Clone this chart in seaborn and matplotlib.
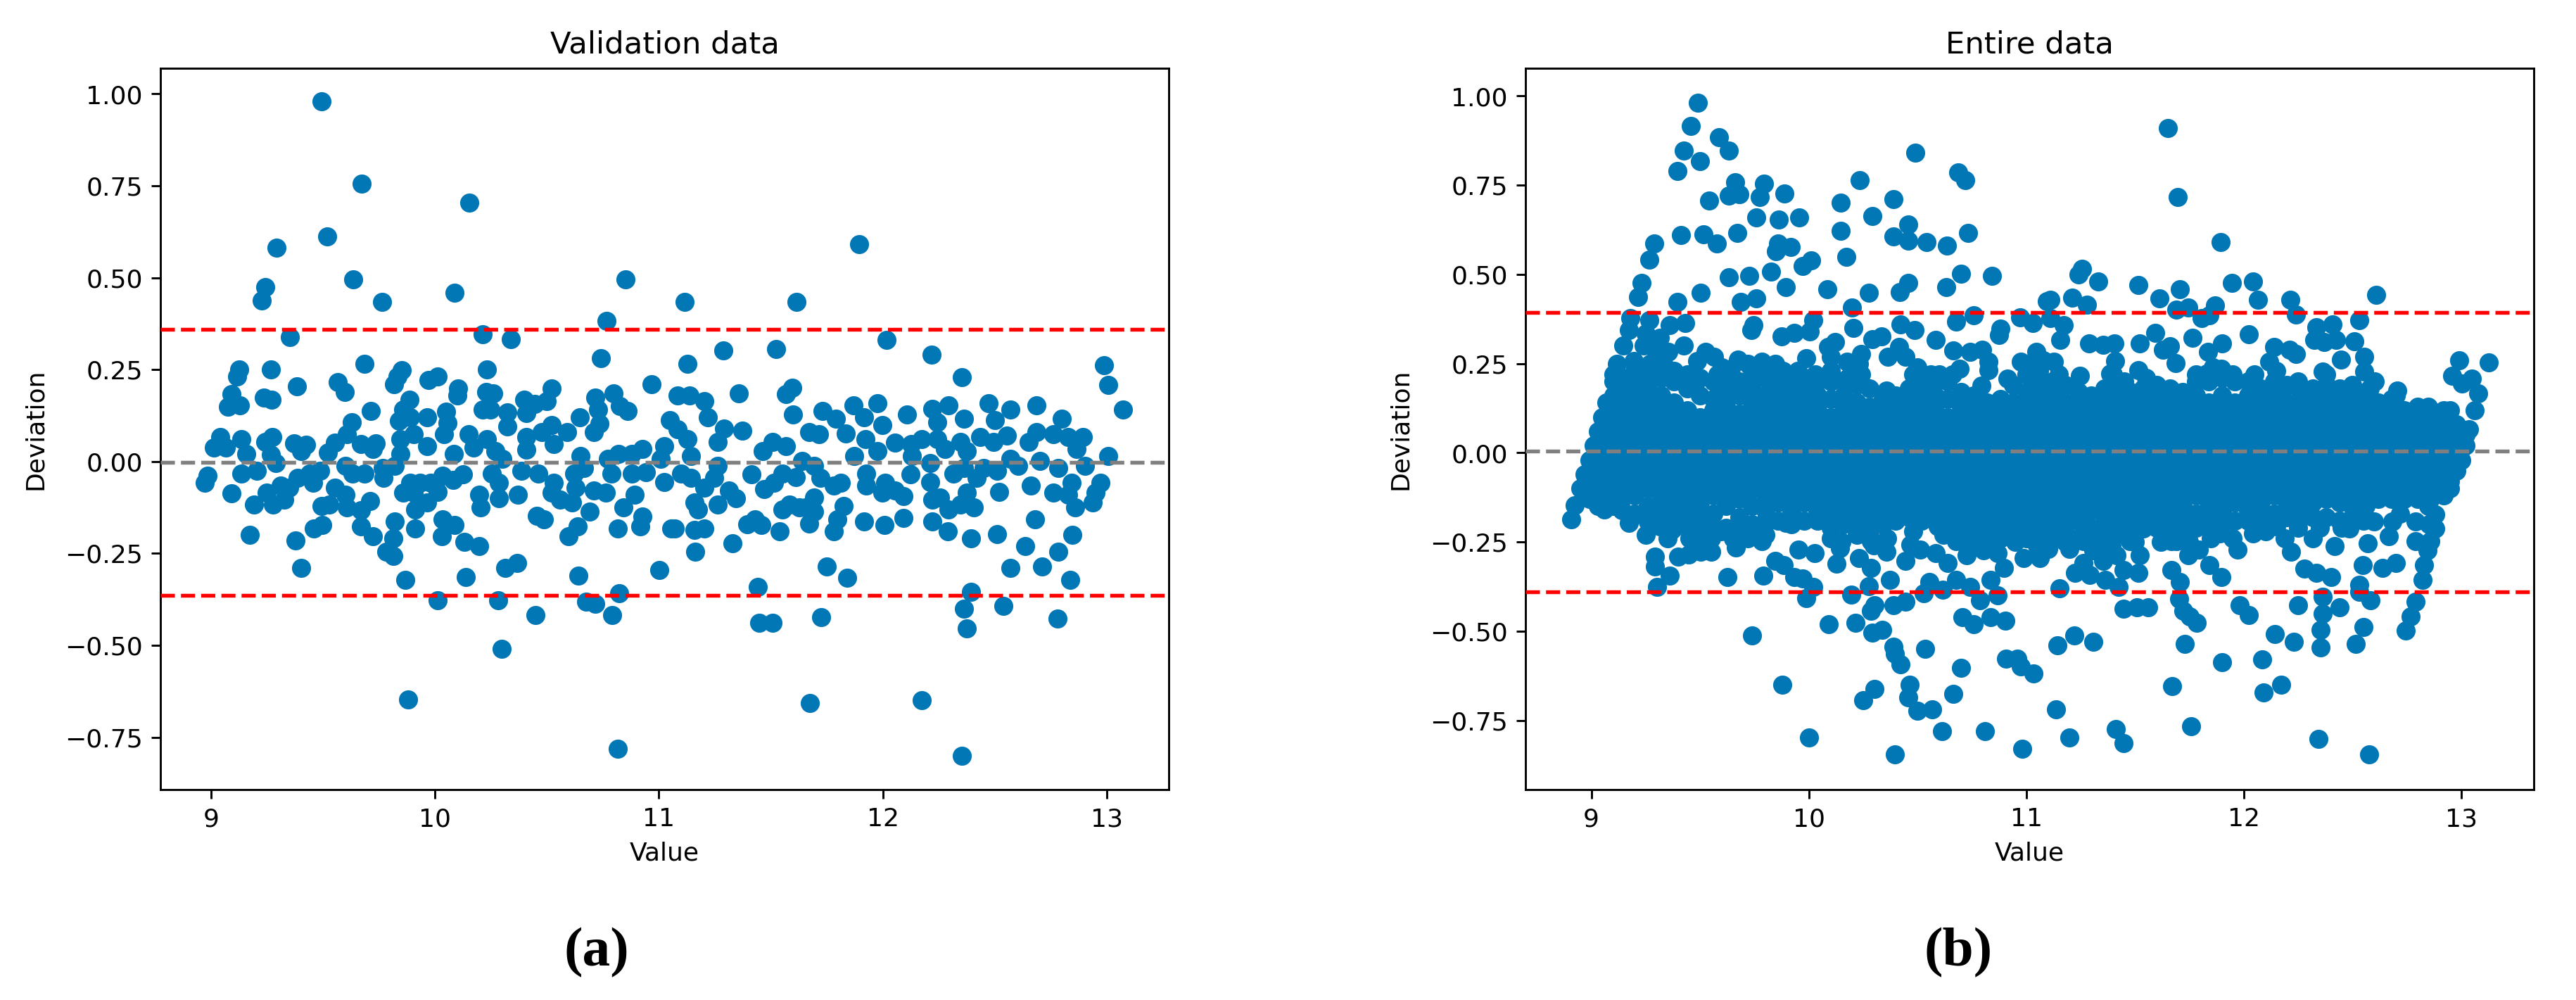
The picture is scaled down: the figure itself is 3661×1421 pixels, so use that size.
"""Deviation vs value scatter panels for validation and entire data."""

import matplotlib

matplotlib.use("Agg")

import matplotlib.pyplot as plt
import numpy as np
import pandas as pd
import seaborn as sns

POINT_COLOR = "#0277B6"
X_TICKS = [9, 10, 11, 12, 13]
Y_TICKS = [-0.75, -0.50, -0.25, 0.00, 0.25, 0.50, 0.75, 1.00]

# validation data, value below about 11
validation_low = [
    (9.494, 0.980), (9.672, 0.755), (10.155, 0.704), (9.292, 0.582), (9.518, 0.612), (9.634, 0.495), (9.242, 0.475),
    (9.225, 0.438), (9.763, 0.434), (10.088, 0.459), (10.851, 0.495), (10.767, 0.383), (10.214, 0.347), (10.340, 0.332),
    (9.352, 0.338), (10.741, 0.281), (9.125, 0.251), (9.116, 0.232), (9.267, 0.251), (9.685, 0.265), (9.851, 0.248),
    (9.832, 0.232), (9.816, 0.210), (10.231, 0.251), (10.011, 0.231), (9.970, 0.222), (10.103, 0.198), (10.100, 0.179),
    (9.385, 0.204), (9.567, 0.216), (9.596, 0.190), (10.966, 0.210), (9.091, 0.183), (9.235, 0.174), (9.272, 0.169),
    (9.075, 0.149), (9.128, 0.153), (10.228, 0.190), (10.259, 0.186), (10.214, 0.142), (10.247, 0.142), (10.522, 0.199),
    (10.499, 0.164), (10.400, 0.169), (10.446, 0.157), (10.407, 0.131), (10.799, 0.185), (10.826, 0.150), (10.861, 0.137),
    (10.715, 0.174), (10.727, 0.142), (10.735, 0.103), (10.709, 0.080), (10.648, 0.120), (10.324, 0.133), (10.324, 0.096),
    (9.885, 0.169), (9.859, 0.142), (9.839, 0.111), (9.890, 0.120), (9.714, 0.137), (9.628, 0.107), (9.608, 0.074),
    (9.554, 0.051), (9.521, 0.024), (9.966, 0.120), (10.049, 0.136), (10.057, 0.104), (10.039, 0.074), (10.149, 0.074),
    (10.171, 0.037), (10.085, 0.021), (10.231, 0.061), (9.040, 0.067), (9.014, 0.037), (9.067, 0.037), (9.136, 0.061),
    (9.158, 0.021), (9.273, 0.067), (9.242, 0.054), (9.268, 0.018), (9.288, -0.005), (9.372, 0.050), (9.425, 0.045),
    (9.402, 0.028), (9.600, -0.012), (9.631, -0.032), (9.684, -0.032), (9.737, 0.050), (9.722, 0.034), (9.669, 0.047),
    (9.847, 0.061), (9.905, 0.074), (9.966, 0.041), (9.847, 0.021), (9.768, -0.018), (9.771, -0.045), (9.821, -0.012),
    (10.270, 0.028), (10.301, 0.008), (10.255, -0.032), (10.286, -0.058), (10.407, 0.067), (10.407, 0.032), (10.476, 0.080),
    (10.522, 0.100), (10.530, 0.047), (10.590, 0.080), (10.651, 0.015), (10.667, -0.018), (10.773, 0.008), (10.819, 0.021),
    (10.880, 0.021), (10.925, 0.034), (11.009, 0.008), (11.025, 0.041), (11.050, 0.113), (10.941, -0.029), (11.025, -0.055),
    (10.621, -0.032), (10.628, -0.071), (10.613, -0.111), (10.560, -0.104), (10.530, -0.058), (10.522, -0.084), (10.461, -0.032),
    (10.385, -0.025), (10.709, -0.078), (10.763, -0.084), (10.788, -0.032), (10.880, -0.032), (10.892, -0.091), (10.841, -0.124),
    (10.369, -0.091), (10.286, -0.100), (10.197, -0.091), (10.205, -0.124), (10.125, -0.034), (10.080, -0.051), (10.034, -0.038),
    (9.981, -0.058), (9.935, -0.058), (9.890, -0.058), (10.011, -0.082), (9.966, -0.111), (9.912, -0.131), (9.859, -0.084),
    (9.905, -0.084), (9.912, -0.183), (9.821, -0.164), (9.813, -0.210), (9.783, -0.245), (9.813, -0.256), (10.034, -0.157),
    (10.088, -0.173), (10.030, -0.203), (10.133, -0.219), (10.197, -0.230), (9.867, -0.322), (10.138, -0.315), (10.011, -0.377),
    (10.281, -0.377), (10.313, -0.290), (10.366, -0.276), (10.450, -0.418), (10.298, -0.509), (9.879, -0.648), (10.816, -0.781),
    (10.640, -0.311), (10.674, -0.381), (10.717, -0.388), (10.791, -0.418), (10.823, -0.358), (11.002, -0.296), (10.456, -0.148),
    (10.487, -0.158), (10.691, -0.137), (10.636, -0.177), (10.598, -0.203), (10.816, -0.183), (10.918, -0.177), (10.925, -0.150),
    (11.055, -0.183), (8.983, -0.038), (8.971, -0.058), (9.090, -0.087), (9.192, -0.117), (9.174, -0.199), (9.136, -0.032),
    (9.204, -0.025), (9.250, -0.084), (9.277, -0.117), (9.326, -0.104), (9.349, -0.071), (9.311, -0.065), (9.387, -0.045),
    (9.455, -0.058), (9.486, -0.025), (9.440, -0.032), (9.376, -0.214), (9.402, -0.290), (9.460, -0.183), (9.498, -0.173),
    (9.494, -0.121), (9.529, -0.117), (9.554, -0.071), (9.600, -0.091), (9.608, -0.124), (9.669, -0.133), (9.710, -0.107),
    (9.669, -0.177), (9.722, -0.203),
]

# validation data, value above about 11
validation_high = [
    (11.893, 0.592), (11.114, 0.434), (11.616, 0.434), (12.016, 0.331), (11.289, 0.302), (11.524, 0.306), (11.129, 0.265),
    (12.217, 0.290), (12.353, 0.230), (12.988, 0.261), (13.006, 0.208), (13.073, 0.142), (11.356, 0.185), (11.596, 0.200),
    (11.567, 0.183), (11.599, 0.127), (11.085, 0.179), (11.136, 0.179), (11.203, 0.164), (11.218, 0.120), (11.868, 0.153),
    (11.975, 0.158), (12.108, 0.127), (12.220, 0.144), (12.294, 0.153), (12.361, 0.117), (12.472, 0.158), (12.571, 0.142),
    (12.687, 0.153), (12.798, 0.117), (11.730, 0.137), (11.792, 0.117), (11.716, 0.074), (11.672, 0.080), (11.834, 0.077),
    (11.915, 0.120), (11.923, 0.061), (11.999, 0.100), (11.975, 0.028), (11.871, 0.015), (12.056, 0.051), (12.126, 0.047),
    (12.175, 0.061), (12.242, 0.107), (12.242, 0.061), (12.279, 0.034), (12.131, 0.015), (12.375, 0.028), (12.346, 0.054),
    (12.501, 0.113), (12.435, 0.067), (12.494, 0.054), (12.553, 0.071), (12.571, 0.008), (12.605, -0.012), (12.702, 0.001),
    (12.650, 0.054), (12.687, 0.080), (12.761, 0.074), (12.828, 0.067), (12.895, 0.067), (12.865, 0.034), (12.783, -0.018),
    (12.902, -0.012), (13.006, 0.015), (12.843, -0.058), (12.761, -0.084), (12.828, -0.091), (12.858, -0.124), (12.972, -0.058),
    (12.951, -0.084), (12.939, -0.111), (12.662, -0.066), (12.680, -0.157), (12.635, -0.230), (12.571, -0.290), (12.712, -0.285),
    (12.783, -0.245), (12.847, -0.199), (12.838, -0.322), (12.779, -0.427), (12.521, -0.082), (12.509, -0.025), (12.509, -0.197),
    (12.395, -0.210), (12.291, -0.190), (12.539, -0.393), (12.395, -0.355), (12.361, -0.401), (12.375, -0.454), (12.353, -0.801),
    (12.175, -0.649), (11.674, -0.658), (11.726, -0.423), (11.749, -0.285), (11.841, -0.317), (11.441, -0.342), (11.448, -0.438),
    (11.507, -0.438), (11.329, -0.223), (11.162, -0.245), (11.159, -0.187), (11.203, -0.183), (11.070, -0.183), (11.396, -0.170),
    (11.430, -0.157), (11.458, -0.173), (11.540, -0.190), (11.671, -0.168), (11.782, -0.190), (11.797, -0.157), (11.826, -0.121),
    (11.915, -0.164), (12.007, -0.173), (12.093, -0.153), (12.220, -0.164), (12.220, -0.104), (12.257, -0.098), (12.294, -0.131),
    (12.346, -0.117), (12.405, -0.124), (12.375, -0.084), (12.420, -0.045), (12.450, -0.018), (12.212, -0.055), (12.212, -0.005),
    (12.123, -0.034), (12.316, -0.032), (12.361, -0.018), (12.012, -0.058), (11.997, -0.084), (12.056, -0.078), (12.093, -0.095),
    (11.926, -0.032), (11.926, -0.065), (11.812, -0.058), (11.782, -0.065), (11.723, -0.045), (11.693, -0.098), (11.656, -0.124),
    (11.693, -0.137), (11.552, -0.131), (11.582, -0.117), (11.626, -0.124), (11.463, 0.028), (11.507, 0.054), (11.567, 0.041),
    (11.641, 0.001), (11.693, -0.012), (11.552, -0.032), (11.611, -0.042), (11.470, -0.075), (11.515, -0.058), (11.414, -0.034),
    (11.374, 0.084), (11.292, 0.090), (11.263, 0.054), (11.263, -0.012), (11.248, -0.045), (11.314, -0.078), (11.263, -0.117),
    (11.344, -0.100), (11.159, -0.111), (11.174, -0.131), (11.129, 0.061), (11.085, 0.087), (11.144, 0.015), (11.099, -0.032),
    (11.144, -0.045), (11.203, -0.071),
]

# entire data, points standing clear of the dense band
entire_upper = [
    (9.491, 0.982), (9.458, 0.916), (9.588, 0.885), (9.631, 0.848), (9.424, 0.848), (9.499, 0.817), (9.397, 0.789),
    (10.490, 0.842), (10.233, 0.764), (10.686, 0.785), (10.718, 0.764), (9.662, 0.758), (9.631, 0.721), (9.682, 0.724),
    (9.794, 0.754), (9.776, 0.717), (9.889, 0.726), (9.541, 0.707), (10.147, 0.701), (10.388, 0.711), (10.291, 0.664),
    (9.759, 0.659), (9.863, 0.654), (9.957, 0.659), (10.147, 0.622), (10.459, 0.639), (10.388, 0.606), (10.459, 0.595),
    (10.542, 0.591), (10.636, 0.580), (10.733, 0.617), (9.413, 0.611), (9.515, 0.613), (9.577, 0.586), (9.671, 0.617),
    (9.290, 0.586), (9.267, 0.542), (9.860, 0.586), (9.918, 0.576), (9.850, 0.564), (10.173, 0.549), (10.012, 0.539),
    (9.973, 0.523), (9.827, 0.507), (9.725, 0.496), (9.631, 0.492), (10.699, 0.501), (10.843, 0.496), (10.631, 0.465),
    (10.459, 0.476), (10.420, 0.450), (9.232, 0.477), (9.216, 0.436), (9.894, 0.465), (10.085, 0.459), (10.275, 0.448),
    (9.502, 0.448), (9.397, 0.423), (9.758, 0.433), (9.687, 0.423), (10.198, 0.408), (11.094, 0.425), (10.757, 0.385),
    (10.678, 0.368), (10.972, 0.380), (11.031, 0.364), (10.020, 0.371), (10.004, 0.340), (9.745, 0.357), (9.737, 0.344),
    (9.180, 0.378), (9.173, 0.344), (9.267, 0.371), (9.251, 0.334), (9.431, 0.364), (9.361, 0.357), (9.314, 0.323),
    (10.423, 0.360), (10.487, 0.344), (10.205, 0.350), (9.933, 0.337), (9.875, 0.327), (10.882, 0.348), (10.875, 0.330),
    (10.584, 0.317), (10.333, 0.326), (10.294, 0.319), (10.122, 0.310), (10.090, 0.296), (10.103, 0.269), (10.415, 0.296),
    (10.365, 0.269), (10.443, 0.269), (10.242, 0.276), (10.176, 0.255), (10.231, 0.249), (9.146, 0.300), (9.424, 0.300),
    (9.353, 0.283), (9.525, 0.283), (9.565, 0.269), (9.486, 0.258), (9.196, 0.258), (9.118, 0.249), (9.675, 0.262),
    (9.988, 0.266), (9.784, 0.255), (9.847, 0.249), (9.643, 0.235), (10.663, 0.287), (10.741, 0.283), (10.796, 0.289),
    (10.827, 0.255), (10.827, 0.231), (10.694, 0.235), (11.047, 0.283), (10.976, 0.255), (10.914, 0.208), (10.793, 0.188),
    (10.357, 0.174), (11.653, 0.910), (11.697, 0.717), (11.895, 0.591), (11.256, 0.516), (11.241, 0.500), (11.332, 0.480),
    (11.516, 0.470), (11.707, 0.459), (11.612, 0.432), (11.947, 0.476), (12.043, 0.480), (12.066, 0.428), (12.214, 0.428),
    (12.241, 0.387), (12.611, 0.443), (11.111, 0.428), (11.213, 0.435), (11.279, 0.416), (11.870, 0.414), (11.844, 0.385),
    (11.806, 0.378), (11.745, 0.408), (11.691, 0.402), (11.111, 0.378), (11.172, 0.357), (11.157, 0.317), (11.290, 0.307),
    (11.355, 0.303), (11.406, 0.307), (11.523, 0.307), (11.592, 0.337), (11.661, 0.299), (11.630, 0.289), (11.765, 0.323),
    (11.902, 0.307), (11.837, 0.283), (12.024, 0.333), (12.333, 0.351), (12.409, 0.360), (12.532, 0.371), (12.325, 0.317),
    (12.371, 0.310), (12.425, 0.317), (12.509, 0.313), (12.142, 0.296), (12.119, 0.255), (12.211, 0.289), (12.241, 0.276),
    (11.409, 0.258), (11.386, 0.221), (11.516, 0.231), (11.687, 0.251), (11.829, 0.221), (11.898, 0.235), (11.126, 0.255),
    (11.248, 0.215), (12.448, 0.262), (12.555, 0.269), (12.555, 0.228), (12.604, 0.201), (12.364, 0.228), (12.990, 0.260),
    (13.128, 0.253), (12.960, 0.215), (13.005, 0.194), (13.051, 0.208), (13.079, 0.167), (13.063, 0.120), (13.036, 0.065),
    (12.707, 0.174),
]

entire_lower = [
    (8.906, -0.186), (8.922, -0.148), (9.060, -0.159), (9.173, -0.197), (9.259, -0.193), (9.314, -0.207), (9.369, -0.217),
    (9.293, -0.291), (9.293, -0.319), (9.361, -0.345), (9.301, -0.376), (9.400, -0.291), (9.447, -0.285), (9.502, -0.247),
    (9.502, -0.277), (9.552, -0.277), (9.627, -0.349), (9.792, -0.345), (9.664, -0.265), (9.596, -0.220), (9.740, -0.512),
    (9.878, -0.651), (10.001, -0.798), (10.396, -0.845), (10.613, -0.781), (10.809, -0.781), (10.983, -0.829), (10.250, -0.693),
    (10.302, -0.662), (10.464, -0.651), (10.459, -0.686), (10.498, -0.723), (10.569, -0.719), (10.663, -0.675), (10.699, -0.603),
    (10.534, -0.549), (10.388, -0.543), (10.396, -0.563), (10.423, -0.592), (10.291, -0.505), (10.338, -0.496), (10.093, -0.481),
    (10.216, -0.476), (10.286, -0.444), (10.302, -0.428), (10.388, -0.428), (10.443, -0.417), (10.373, -0.356), (9.988, -0.408),
    (10.020, -0.376), (9.973, -0.353), (9.933, -0.349), (9.847, -0.302), (9.886, -0.315), (9.952, -0.272), (10.027, -0.281),
    (10.126, -0.311), (10.195, -0.397), (10.275, -0.374), (10.231, -0.295), (10.286, -0.322), (10.357, -0.277), (10.286, -0.247),
    (10.145, -0.268), (10.446, -0.302), (10.467, -0.258), (10.514, -0.272), (10.584, -0.281), (10.639, -0.308), (10.553, -0.363),
    (10.529, -0.394), (10.616, -0.383), (10.678, -0.356), (10.741, -0.376), (10.788, -0.413), (10.707, -0.461), (10.757, -0.481),
    (10.835, -0.461), (10.903, -0.471), (10.906, -0.577), (10.958, -0.577), (10.976, -0.598), (11.034, -0.618), (10.867, -0.399),
    (10.835, -0.356), (10.898, -0.322), (10.867, -0.281), (10.804, -0.274), (10.725, -0.288), (10.678, -0.220), (10.678, -0.247),
    (10.989, -0.295), (11.063, -0.295), (10.992, -0.230), (10.890, -0.227), (10.592, -0.207), (9.784, -0.247), (9.792, -0.213),
    (9.894, -0.196), (12.822, -0.356), (12.830, -0.315), (12.845, -0.274), (12.860, -0.247), (12.883, -0.213), (12.791, -0.417),
    (12.769, -0.458), (12.746, -0.499), (12.791, -0.247), (12.700, -0.308), (12.639, -0.322), (12.547, -0.315), (12.570, -0.254),
    (12.883, -0.173), (12.853, -0.200), (12.791, -0.193), (12.684, -0.193), (12.669, -0.234), (12.600, -0.193), (12.532, -0.370),
    (12.532, -0.390), (12.585, -0.413), (12.440, -0.433), (12.364, -0.451), (12.402, -0.349), (12.333, -0.336), (12.280, -0.325),
    (12.364, -0.404), (12.420, -0.261), (12.218, -0.277), (12.188, -0.240), (12.249, -0.428), (12.550, -0.488), (12.516, -0.535),
    (12.353, -0.496), (12.353, -0.546), (12.145, -0.508), (12.231, -0.529), (12.086, -0.580), (12.173, -0.651), (12.092, -0.671),
    (12.344, -0.802), (12.578, -0.846), (11.982, -0.427), (12.024, -0.455), (11.902, -0.587), (11.730, -0.535), (11.672, -0.655),
    (11.757, -0.766), (11.413, -0.774), (11.447, -0.813), (11.198, -0.798), (11.137, -0.719), (11.144, -0.539), (11.222, -0.512),
    (11.309, -0.529), (11.447, -0.438), (11.508, -0.433), (11.561, -0.433), (11.704, -0.410), (11.722, -0.444), (11.752, -0.458),
    (11.783, -0.476), (11.668, -0.329), (11.707, -0.363), (11.844, -0.315), (11.898, -0.349), (11.971, -0.272), (11.745, -0.288),
    (11.795, -0.272), (11.668, -0.247), (11.152, -0.379), (11.225, -0.336), (11.264, -0.308), (11.294, -0.342), (11.363, -0.356),
    (11.424, -0.376), (11.516, -0.336), (11.523, -0.288), (11.355, -0.302), (11.416, -0.288), (11.447, -0.329), (11.393, -0.261),
    (11.309, -0.274), (11.065, -0.288), (11.172, -0.234), (11.264, -0.247), (11.477, -0.247), (11.539, -0.213), (11.432, -0.193),
    (11.890, -0.227), (12.043, -0.227), (12.150, -0.207), (11.691, -0.247), (12.318, -0.240), (12.486, -0.213),
]

# entire data, irregular points along the rim of the dense band
entire_rim = [
    (9.10, 0.22), (9.30, 0.27), (9.33, 0.25), (9.27, 0.25), (9.24, 0.30), (9.30, 0.31), (9.38, 0.23), (9.60, 0.24), (9.58, 0.22),
    (9.72, 0.25), (9.88, 0.23), (9.95, 0.23), (10.03, 0.22), (10.10, 0.23), (10.18, 0.21), (10.24, 0.22), (10.48, 0.22),
    (10.50, 0.24), (10.56, 0.22), (10.66, 0.22), (10.60, 0.22), (11.02, 0.25), (11.08, 0.26), (11.15, 0.22), (11.40, 0.22),
    (11.45, 0.20), (11.55, 0.21), (11.78, 0.22), (11.86, 0.24), (11.95, 0.22), (12.05, 0.22), (12.15, 0.23), (12.25, 0.20),
    (12.38, 0.22), (12.50, 0.19), (12.58, 0.18), (12.70, 0.16), (12.85, 0.13), (9.25, -0.23), (9.35, -0.24), (9.45, -0.24),
    (9.55, -0.24), (9.65, -0.24), (9.72, -0.24), (9.70, -0.22), (9.80, -0.23), (10.10, -0.24), (10.15, -0.25), (10.22, -0.23),
    (10.30, -0.26), (10.36, -0.24), (10.48, -0.22), (10.62, -0.23), (10.72, -0.25), (10.78, -0.25), (10.85, -0.26),
    (10.95, -0.25), (11.05, -0.26), (11.10, -0.27), (11.20, -0.27), (11.32, -0.26), (11.50, -0.25), (11.62, -0.25),
    (11.75, -0.25), (11.85, -0.24), (11.95, -0.24), (12.10, -0.22), (12.25, -0.21), (12.35, -0.21), (12.45, -0.21),
    (12.55, -0.19), (12.72, -0.17), (12.85, -0.15),
]

# entire data, dense band read column by column: (value, deviations)
entire_band = [
    (8.95, [-0.10]), (8.97, [-0.06, -0.11]), (8.99, [-0.02, -0.06, -0.10, -0.13]), (9.01, [0.02, -0.02, -0.06, -0.10, -0.13]),
    (9.03, [0.06, 0.02, -0.03, -0.08, -0.12, -0.15]), (9.05, [0.10, 0.06, 0.01, -0.04, -0.09, -0.13]),
    (9.07, [0.14, 0.09, 0.04, -0.01, -0.06, -0.11, -0.15]), (9.10, [0.20, 0.16, 0.12, 0.08, 0.04, 0.00, -0.04, -0.08, -0.12, -0.15]),
    (9.14, [0.21, 0.18, 0.14, 0.10, 0.06, 0.02, -0.02, -0.06, -0.10, -0.13, -0.16]),
    (9.20, [0.23, 0.20, 0.16, 0.12, 0.08, 0.04, 0.00, -0.04, -0.08, -0.12, -0.17]),
    (9.26, [0.22, 0.18, 0.14, 0.10, 0.06, 0.02, -0.02, -0.06, -0.10, -0.15, -0.19]),
    (9.32, [0.21, 0.16, 0.12, 0.08, 0.04, 0.00, -0.04, -0.08, -0.12, -0.16, -0.20]),
    (9.38, [0.20, 0.14, 0.10, 0.06, 0.02, -0.02, -0.06, -0.10, -0.14, -0.18, -0.21]),
    (9.44, [0.22, 0.18, 0.12, 0.08, 0.04, 0.00, -0.04, -0.08, -0.12, -0.16, -0.20]),
    (9.50, [0.21, 0.16, 0.10, 0.06, 0.02, -0.02, -0.06, -0.10, -0.14, -0.18, -0.21]),
    (9.56, [0.20, 0.15, 0.12, 0.08, 0.04, 0.00, -0.04, -0.08, -0.12, -0.17, -0.21]),
    (9.62, [0.21, 0.17, 0.13, 0.09, 0.05, 0.01, -0.03, -0.07, -0.11, -0.15, -0.21]),
    (9.68, [0.20, 0.16, 0.11, 0.07, 0.03, -0.01, -0.05, -0.09, -0.13, -0.18, -0.22]),
    (9.74, [0.22, 0.18, 0.14, 0.10, 0.06, 0.02, -0.02, -0.06, -0.10, -0.15, -0.20]),
    (9.80, [0.21, 0.16, 0.12, 0.08, 0.04, 0.00, -0.04, -0.08, -0.12, -0.16, -0.19]),
    (9.86, [0.22, 0.18, 0.14, 0.10, 0.06, 0.02, -0.02, -0.06, -0.10, -0.14, -0.19]),
    (9.92, [0.20, 0.16, 0.12, 0.08, 0.04, 0.00, -0.04, -0.08, -0.12, -0.16, -0.20]),
    (9.98, [0.21, 0.18, 0.14, 0.10, 0.06, 0.02, -0.02, -0.06, -0.10, -0.14, -0.19]),
    (10.04, [0.20, 0.16, 0.12, 0.08, 0.04, 0.00, -0.04, -0.08, -0.12, -0.16, -0.19]),
    (10.10, [0.20, 0.15, 0.10, 0.06, 0.02, -0.02, -0.06, -0.10, -0.14, -0.18, -0.21]),
    (10.16, [0.20, 0.16, 0.12, 0.08, 0.04, 0.00, -0.04, -0.08, -0.12, -0.16, -0.20]),
    (10.22, [0.19, 0.14, 0.10, 0.06, 0.02, -0.02, -0.06, -0.10, -0.14, -0.17, -0.20]),
    (10.28, [0.18, 0.13, 0.09, 0.05, 0.01, -0.03, -0.07, -0.11, -0.15, -0.18, -0.22]),
    (10.34, [0.15, 0.11, 0.07, 0.03, -0.01, -0.05, -0.09, -0.13, -0.17, -0.20]),
    (10.40, [0.16, 0.13, 0.09, 0.05, 0.01, -0.03, -0.07, -0.11, -0.15, -0.19]),
    (10.46, [0.18, 0.14, 0.10, 0.06, 0.02, -0.02, -0.06, -0.10, -0.14, -0.18]),
    (10.52, [0.19, 0.15, 0.11, 0.07, 0.03, -0.01, -0.05, -0.09, -0.13, -0.16, -0.19]),
    (10.58, [0.20, 0.16, 0.12, 0.08, 0.04, 0.00, -0.04, -0.08, -0.12, -0.15, -0.18]),
    (10.64, [0.20, 0.15, 0.10, 0.06, 0.02, -0.02, -0.06, -0.10, -0.14, -0.18, -0.21]),
    (10.70, [0.17, 0.13, 0.09, 0.05, 0.01, -0.03, -0.07, -0.11, -0.15, -0.19, -0.22]),
    (10.76, [0.16, 0.12, 0.08, 0.04, 0.00, -0.04, -0.08, -0.12, -0.16, -0.19, -0.22]),
    (10.82, [0.14, 0.10, 0.06, 0.02, -0.02, -0.06, -0.10, -0.14, -0.18, -0.22]),
    (10.88, [0.15, 0.11, 0.07, 0.03, -0.01, -0.05, -0.09, -0.13, -0.17, -0.21, -0.24]),
    (10.94, [0.19, 0.14, 0.10, 0.06, 0.02, -0.02, -0.06, -0.10, -0.14, -0.18, -0.22]),
    (11.00, [0.22, 0.17, 0.13, 0.09, 0.05, 0.01, -0.03, -0.07, -0.11, -0.15, -0.19, -0.24]),
    (11.06, [0.23, 0.19, 0.15, 0.11, 0.07, 0.03, -0.01, -0.05, -0.09, -0.13, -0.17, -0.21, -0.24]),
    (11.12, [0.20, 0.16, 0.12, 0.08, 0.04, 0.00, -0.04, -0.08, -0.12, -0.16, -0.20, -0.24]),
    (11.18, [0.19, 0.14, 0.10, 0.06, 0.02, -0.02, -0.06, -0.10, -0.14, -0.18, -0.22, -0.25]),
    (11.24, [0.17, 0.13, 0.09, 0.05, 0.01, -0.03, -0.07, -0.11, -0.15, -0.19, -0.24]),
    (11.30, [0.16, 0.12, 0.08, 0.04, 0.00, -0.04, -0.08, -0.12, -0.16, -0.21, -0.25]),
    (11.36, [0.18, 0.14, 0.10, 0.06, 0.02, -0.02, -0.06, -0.10, -0.14, -0.18, -0.21, -0.24]),
    (11.42, [0.19, 0.15, 0.11, 0.07, 0.03, -0.01, -0.05, -0.09, -0.13, -0.17, -0.20, -0.23]),
    (11.48, [0.17, 0.13, 0.09, 0.05, 0.01, -0.03, -0.07, -0.11, -0.15, -0.19, -0.22]),
    (11.54, [0.18, 0.14, 0.10, 0.06, 0.02, -0.02, -0.06, -0.10, -0.14, -0.18, -0.21]),
    (11.60, [0.19, 0.15, 0.11, 0.07, 0.03, -0.01, -0.05, -0.09, -0.13, -0.17, -0.21]),
    (11.66, [0.18, 0.14, 0.10, 0.06, 0.02, -0.02, -0.06, -0.10, -0.14, -0.18, -0.22]),
    (11.72, [0.17, 0.13, 0.09, 0.05, 0.01, -0.03, -0.07, -0.11, -0.15, -0.19, -0.22]),
    (11.78, [0.20, 0.16, 0.12, 0.08, 0.04, 0.00, -0.04, -0.08, -0.12, -0.17, -0.21]),
    (11.84, [0.20, 0.14, 0.10, 0.06, 0.02, -0.02, -0.06, -0.10, -0.14, -0.17, -0.20]),
    (11.90, [0.21, 0.16, 0.12, 0.08, 0.04, 0.00, -0.04, -0.08, -0.12, -0.16, -0.20]),
    (11.96, [0.20, 0.14, 0.10, 0.06, 0.02, -0.02, -0.06, -0.10, -0.14, -0.19]),
    (12.02, [0.20, 0.16, 0.12, 0.08, 0.04, 0.00, -0.04, -0.08, -0.12, -0.16, -0.19]),
    (12.08, [0.18, 0.14, 0.10, 0.06, 0.02, -0.02, -0.06, -0.10, -0.14, -0.18]),
    (12.14, [0.20, 0.16, 0.12, 0.08, 0.04, 0.00, -0.04, -0.08, -0.12, -0.17]),
    (12.20, [0.19, 0.14, 0.10, 0.06, 0.02, -0.02, -0.06, -0.10, -0.14, -0.18]),
    (12.26, [0.17, 0.13, 0.09, 0.05, 0.01, -0.03, -0.07, -0.11, -0.14, -0.17]),
    (12.32, [0.18, 0.14, 0.10, 0.06, 0.02, -0.02, -0.06, -0.10, -0.14, -0.18]),
    (12.38, [0.19, 0.15, 0.11, 0.07, 0.03, -0.01, -0.05, -0.09, -0.13, -0.18]),
    (12.44, [0.18, 0.14, 0.10, 0.06, 0.02, -0.02, -0.06, -0.10, -0.14, -0.19]),
    (12.50, [0.17, 0.13, 0.09, 0.05, 0.01, -0.03, -0.07, -0.11, -0.15, -0.18]),
    (12.56, [0.15, 0.11, 0.07, 0.03, -0.01, -0.05, -0.09, -0.12, -0.15]),
    (12.62, [0.14, 0.10, 0.06, 0.02, -0.02, -0.06, -0.10, -0.13]),
    (12.68, [0.15, 0.11, 0.07, 0.03, -0.01, -0.05, -0.09, -0.13]),
    (12.74, [0.12, 0.08, 0.04, 0.00, -0.04, -0.08, -0.11, -0.13]),
    (12.80, [0.13, 0.09, 0.05, 0.01, -0.03, -0.07, -0.10, -0.13]),
    (12.86, [0.12, 0.08, 0.04, 0.00, -0.04, -0.08, -0.11, -0.13]),
    (12.92, [0.12, 0.09, 0.05, 0.01, -0.03, -0.07, -0.10, -0.12]),
    (12.95, [0.12, 0.08, 0.04, 0.00, -0.04, -0.08, -0.10]),
    (12.98, [0.08, 0.05, 0.01, -0.03, -0.05]), (13.00, [0.05, 0.01, -0.02]), (13.02, [0.05, 0.02]),
]

# reference lines: (upper limit, mean, lower limit)
validation_lines = (0.359, -0.002, -0.364)
entire_lines = (0.394, 0.004, -0.390)


def draw_panel(ax, points, lines, title, xlim, ylim):
    df = pd.DataFrame(points, columns=["value", "deviation"])
    sns.scatterplot(data=df, x="value", y="deviation", ax=ax, color=POINT_COLOR, s=36, edgecolor=POINT_COLOR, linewidth=1.5, zorder=2)
    ax.axhline(lines[0], color="red", linestyle="--", zorder=3)
    ax.axhline(lines[1], color="gray", linestyle="--", zorder=3)
    ax.axhline(lines[2], color="red", linestyle="--", zorder=3)
    ax.set_xlim(*xlim)
    ax.set_ylim(*ylim)
    ax.set_xticks(X_TICKS)
    ax.set_yticks(Y_TICKS)
    ax.set_xlabel("Value")
    ax.set_ylabel("Deviation", labelpad=7)
    ax.set_title(title)


band_points = [(value, dev) for value, devs in entire_band for dev in devs]

fig = plt.figure(figsize=(3661.1 / 260, 1421.1 / 260), dpi=260)
ax_left = fig.add_axes([228 / 3661, 1 - 1122 / 1421, 1433 / 3661, 1025 / 1421])
ax_right = fig.add_axes([2168 / 3661, 1 - 1122 / 1421, 1433 / 3661, 1025 / 1421])

draw_panel(ax_left, validation_low + validation_high, validation_lines, "Validation data", (8.774, 13.277), (-0.8925, 1.070))
draw_panel(ax_right, entire_upper + entire_lower + entire_rim + band_points, entire_lines, "Entire data", (8.697, 13.335), (-0.944, 1.078))

fig.text(848 / 3661, 1 - 1354 / 1421, "(a)", family="Liberation Serif", weight="bold", fontsize=22, ha="center", va="center")
fig.text(2783 / 3661, 1 - 1354 / 1421, "(b)", family="Liberation Serif", weight="bold", fontsize=22, ha="center", va="center")

fig.savefig("out.png", dpi=260)
